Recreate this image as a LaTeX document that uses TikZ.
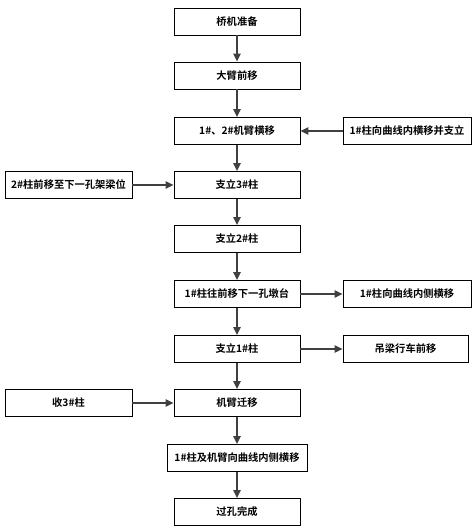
\documentclass[tikz,border=0pt]{standalone}
\usepackage{fontspec}
\setmainfont{Noto Sans CJK SC}[BoldFont={Noto Sans CJK SC Bold}]
\usetikzlibrary{arrows.meta,positioning,calc}

\tikzset{
  stepbox/.style={draw=black, line width=0.6pt, minimum width=126*0.75pt, minimum height=27*0.75pt,
    inner sep=1pt, font=\fontsize{7.7}{9}\selectfont\bfseries},
  flowarrow/.style={draw=black!75, line width=1.1pt, -{Triangle[length=6pt,width=5.5pt]}}
}

\begin{document}
\begin{tikzpicture}[x=0.75pt,y=0.75pt,yscale=-1,xscale=1]
\useasboundingbox (0,0) rectangle (474,528);

% Main column
\node [stepbox] (prep) at (237,21.5) {桥机准备};
\node [stepbox] (armfwd) at (237,75.5) {大臂前移};
\node [stepbox] (armside) at (237,131) {1\#、2\#机臂横移};
\node [stepbox] (sup3) at (237,185) {支立3\#柱};
\node [stepbox] (sup2) at (237,239) {支立2\#柱};
\node [stepbox] (col1fwd) at (237,294) {1\#柱往前移下一孔墩台};
\node [stepbox] (sup1) at (237,349) {支立1\#柱};
\node [stepbox] (armmove) at (237,403) {机臂迁移};
\node [stepbox, minimum width=140*0.75pt] (colarm) at (237,458) {1\#柱及机臂向曲线内侧横移};
\node [stepbox] (done) at (237,512) {过孔完成};

% Side boxes
\node [stepbox, minimum width=128*0.75pt] (col1in) at (407,131) {1\#柱向曲线内横移并支立};
\node [stepbox, minimum width=127*0.75pt] (col2fwd) at (68.5,185) {2\#柱前移至下一孔架梁位};
\node [stepbox, minimum width=128*0.75pt] (col1side) at (407,294) {1\#柱向曲线内侧横移};
\node [stepbox, minimum width=125*0.75pt] (crane) at (405.5,349) {吊梁行车前移};
\node [stepbox, minimum width=127*0.75pt] (take3) at (68.5,403) {收3\#柱};

% Connectors
\foreach \a/\b in {prep/armfwd, armfwd/armside, armside/sup3, sup3/sup2, sup2/col1fwd,
  col1fwd/sup1, sup1/armmove, armmove/colarm, colarm/done}
  \draw [flowarrow] (\a) -- (\b);
\draw [flowarrow] (col1in) -- (armside);
\draw [flowarrow] (col2fwd) -- (sup3);
\draw [flowarrow] (col1fwd) -- (col1side);
\draw [flowarrow] (sup1) -- (crane);
\draw [flowarrow] (take3) -- (armmove);

\end{tikzpicture}
\end{document}
